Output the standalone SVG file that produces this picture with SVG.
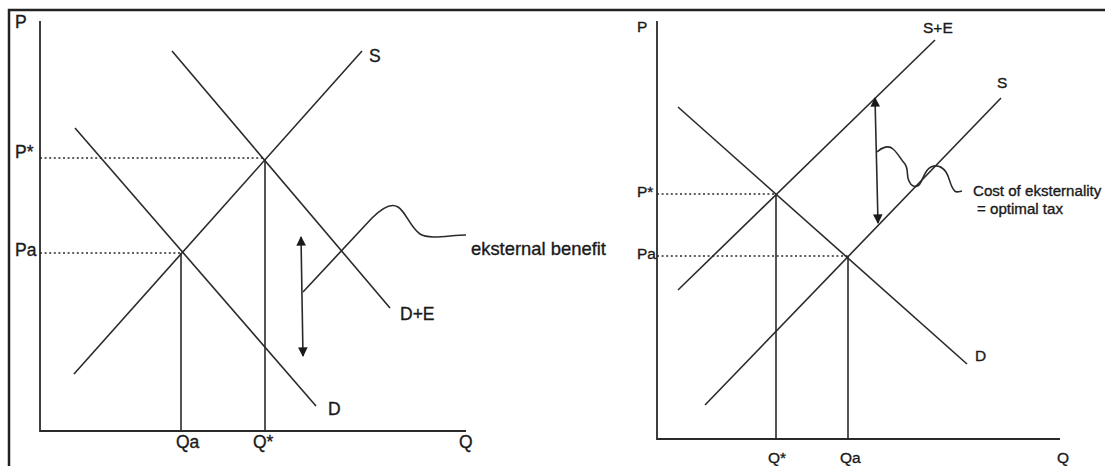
<svg xmlns="http://www.w3.org/2000/svg" width="1105" height="466" viewBox="0 0 1105 466">
<style>
.ln{stroke:#2a2a2a;stroke-width:1.6;fill:none}
.ax{stroke:#2a2a2a;stroke-width:1.8;fill:none}
.dot{stroke:#2a2a2a;stroke-width:1.6;stroke-dasharray:2 2.6;fill:none}
.lb{font-family:"Liberation Sans",Arial,sans-serif;fill:#1a1a1a;stroke:#1a1a1a;stroke-width:0.35}
.l17{font-size:17.5px}
.l15{font-size:15.5px}
.ann{font-size:18.4px}
.ann2{font-size:15.1px}
</style>
<defs>
<marker id="ah" viewBox="0 0 10 10" refX="9" refY="5" markerWidth="6" markerHeight="6" markerUnits="strokeWidth" orient="auto-start-reverse">
<path d="M0,0 L10,5 L0,10 z" fill="#1a1a1a"/>
</marker>
</defs>
<rect width="1105" height="466" fill="#fff"/>
<g id="frame">
<path d="M9,466 V10 H1105" stroke="#222" stroke-width="2.5" fill="none"/>
</g>
<g id="left-chart">
<g id="left-axes">
<path class="ax" d="M40,21 V431 H466"/>
<text class="lb l17" x="15" y="28">P</text>
<text class="lb l17" x="459" y="448">Q</text>
</g>
<g id="left-guides">
<path class="dot" d="M40,158 H265"/>
<path class="dot" d="M40,253 H181"/>
<path class="ln" d="M265,159 V431"/>
<path class="ln" d="M181,253 V431" stroke="#555"/>
<text class="lb l17" x="15" y="158">P*</text>
<text class="lb l17" x="15" y="256">Pa</text>
<text class="lb l17" x="176" y="448">Qa</text>
<text class="lb l17" x="253" y="448">Q*</text>
</g>
<g id="left-S">
<path class="ln" d="M74,374 L362,51"/>
<text class="lb l17" x="369" y="62">S</text>
</g>
<g id="left-DE">
<path class="ln" d="M172,51 L390,308"/>
<text class="lb l17" x="400" y="320">D+E</text>
</g>
<g id="left-D">
<path class="ln" d="M75,128 L316,406"/>
<text class="lb l17" x="328" y="415">D</text>
</g>
<g id="left-annotation">
<path class="ln" d="M301,237 L303,356" marker-start="url(#ah)" marker-end="url(#ah)"/>
<path class="ln" d="M303,292 L372,218 C384,206 392,203 398,207 C406,212 410,227 420,234 C430,240 450,235 466,235"/>
<text class="lb ann" x="471" y="255">eksternal benefit</text>
</g>
</g>
<g id="right-chart">
<g id="right-axes">
<path class="ax" d="M657,21 V439 H1060"/>
<text class="lb l15" x="637" y="32">P</text>
<text class="lb l15" x="1057" y="463">Q</text>
</g>
<g id="right-guides">
<path class="dot" d="M657,194 H776"/>
<path class="dot" d="M657,256 H848"/>
<path class="ln" d="M776,194 V439"/>
<path class="ln" d="M848,256 V439"/>
<text class="lb l15" x="637" y="197">P*</text>
<text class="lb l15" x="637" y="259">Pa</text>
<text class="lb l15" x="768" y="463">Q*</text>
<text class="lb l15" x="840" y="463">Qa</text>
</g>
<g id="right-SE">
<path class="ln" d="M678,290 L935,40"/>
<text class="lb l15" x="923" y="33">S+E</text>
</g>
<g id="right-S">
<path class="ln" d="M705,405 L1001,98"/>
<text class="lb l15" x="997" y="88">S</text>
</g>
<g id="right-D">
<path class="ln" d="M678,107 L967,364"/>
<text class="lb l15" x="975" y="361">D</text>
</g>
<g id="right-annotation">
<path class="ln" d="M875,98 L878,223" marker-start="url(#ah)" marker-end="url(#ah)"/>
<path class="ln" stroke-width="1.2" d="M877,152 C882,147 889,145 893,149 C898,153 901,160 905,164 C909,170 906,176 909,181 C911,186 915,188 919,185 C923,181 924,170 931,167 C938,164 943,168 946,172 C950,178 950,186 954,190 C955,193 958,192 962,191"/>
<text class="lb ann2" x="973" y="196">Cost of eksternality</text>
<text class="lb ann2" x="977" y="214">= optimal tax</text>
</g>
</g>
</svg>
